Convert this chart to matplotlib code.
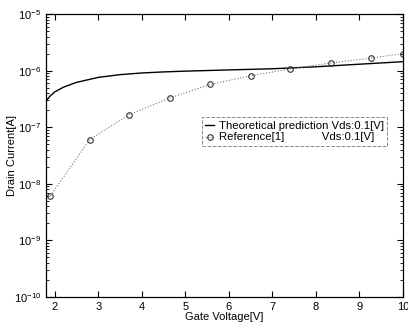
import matplotlib
matplotlib.use("Agg")
import matplotlib.pyplot as plt
import numpy as np

plt.rcParams['font.family'] = ['Liberation Sans', 'DejaVu Sans']
plt.rcParams['mathtext.fontset'] = 'custom'
plt.rcParams['mathtext.rm'] = 'Liberation Sans'
plt.rcParams['mathtext.it'] = 'Liberation Sans'
plt.rcParams['mathtext.bf'] = 'Liberation Sans'

# Theoretical prediction curve
theory_x = [1.8, 1.9, 2.0, 2.2, 2.5, 3.0, 3.5, 4.0, 4.5, 5.0, 6.0, 7.0, 8.0, 9.0, 10.0]
theory_y = [2.9e-7, 3.6e-7, 4.2e-7, 5.1e-7, 6.2e-7, 7.6e-7, 8.5e-7, 9.1e-7, 9.5e-7,
            9.8e-7, 1.03e-6, 1.08e-6, 1.17e-6, 1.3e-6, 1.44e-6]

# Reference[1] data
ref_x = [1.9, 2.8, 3.7, 4.65, 5.57, 6.5, 7.4, 8.35, 9.27, 10.0]
ref_y = [6.1e-9, 6.0e-8, 1.66e-7, 3.3e-7, 5.7e-7, 8.1e-7, 1.07e-6, 1.37e-6, 1.67e-6, 2.0e-6]

xticks = [2, 3, 4, 5, 6, 7, 8, 9, 10]

fig = plt.figure(figsize=(4.08, 3.27), dpi=100)
ax = fig.add_axes([0.1127, 0.0917, 0.875, 0.8653])

ax.plot(theory_x, theory_y, color='black', lw=1.0,
        label='Theoretical prediction Vds:0.1[V]')
ax.plot(ref_x, ref_y, color='#777777', lw=0.8, ls=':', marker='o', ms=4,
        mfc='none', mec='#333333', mew=0.8,
        label='Reference[1]            Vds:0.1[V]')

ax.set_yscale('log')
ax.set_xlim(1.8, 10)
ax.set_ylim(1e-10, 1e-5)
ax.set_xticks(xticks)
ax.set_xticklabels([str(t) for t in xticks])
ax.tick_params(which='both', direction='in', top=True, right=True, labelsize=8)
ax.tick_params(which='major', length=4)
ax.tick_params(which='minor', length=2)
ax.set_xlabel('Gate Voltage[V]', fontsize=8, labelpad=0)
ax.set_ylabel('Drain Current[A]', fontsize=8)
ax.yaxis.set_label_coords(-0.08, 0.5)
for s in ax.spines.values():
    s.set_linewidth(0.9)

leg = ax.legend(loc='upper left', bbox_to_anchor=(0.42, 0.655), fontsize=8.2,
                handlelength=0.8, handletextpad=0.4, borderpad=0.3,
                labelspacing=0.15, fancybox=False, framealpha=1,
                edgecolor='#888888')
leg.get_frame().set_linewidth(0.7)
leg.get_frame().set_linestyle('--')

fig.savefig('out.png', dpi=100)
